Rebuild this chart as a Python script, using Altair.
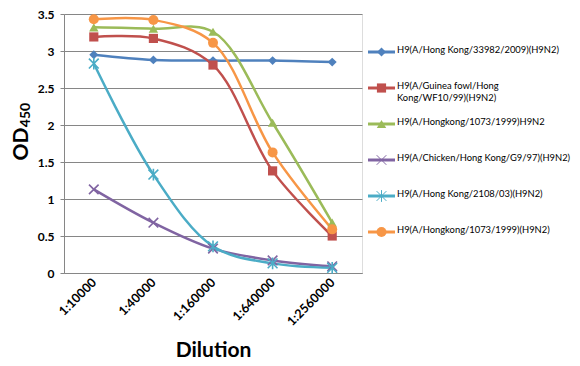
import altair as alt
import pandas as pd

dilutions = ["1:10000", "1:40000", "1:160000", "1:640000", "1:2560000"]

series_names = [
    "H9(A/Hong Kong/33982/2009)(H9N2)",
    "H9(A/Guinea fowl/Hong Kong/WF10/99)(H9N2)",
    "H9(A/Hongkong/1073/1999)H9N2",
    "H9(A/Chicken/Hong Kong/G9/97)(H9N2)",
    "H9(A/Hong Kong/2108/03)(H9N2)",
    "H9(A/Hongkong/1073/1999)(H9N2)",
]
legend_text = [
    "H9(A/Hong Kong/33982/2009)(H9N2)",
    "H9(A/Guinea fowl/Hong|Kong/WF10/99)(H9N2)",
    "H9(A/Hongkong/1073/1999)H9N2",
    "H9(A/Chicken/Hong Kong/G9/97)(H9N2)",
    "H9(A/Hong Kong/2108/03)(H9N2)",
    "H9(A/Hongkong/1073/1999)(H9N2)",
]

od_hk33982 = [2.95, 2.88, 2.87, 2.87, 2.85]
od_guinea = [3.19, 3.17, 2.81, 1.38, 0.50]
od_hk1073a = [3.32, 3.30, 3.26, 2.03, 0.68]
od_chicken = [1.13, 0.68, 0.33, 0.17, 0.09]
od_hk2108 = [2.83, 1.33, 0.36, 0.13, 0.07]
od_hk1073b = [3.43, 3.42, 3.11, 1.63, 0.59]

colors = ["#4F81BD", "#C0504D", "#9BBB59", "#8064A2", "#4BACC6", "#F79646"]
x_path = "M-1,-1L1,1M-1,1L1,-1"
star_path = "M-1,-1L1,1M-1,1L1,-1M0,-1.2L0,1.2"
shapes = ["diamond", "square", "triangle-up", x_path, star_path, "circle"]
sizes = [80, 100, 120, 90, 130, 130]
legend_sizes = [20, 20, 25, 25, 30, 25]

all_values = [od_hk33982, od_guinea, od_hk1073a, od_chicken, od_hk2108, od_hk1073b]
rows = []
for i, (name, vals) in enumerate(zip(series_names, all_values)):
    for d, v in zip(dilutions, vals):
        rows.append({"series": name, "order": i, "dilution": d, "od": v,
                     "filled": i not in (3, 4)})
df = pd.DataFrame(rows)

leg_df = pd.DataFrame({"series": series_names, "label": legend_text,
                       "order": list(range(6)),
                       "filled": [i not in (3, 4) for i in range(6)]})

FONT = "Lato"
color_scale = alt.Scale(domain=series_names, range=colors)
shape_scale = alt.Scale(domain=series_names, range=shapes)
size_scale = alt.Scale(domain=series_names, range=sizes)
lsize_scale = alt.Scale(domain=series_names, range=legend_sizes)

x_enc = alt.X("dilution:N", sort=dilutions,
              scale=alt.Scale(type="point", padding=0.5),
              axis=alt.Axis(title="Dilution", labelAngle=-45, labelAlign="right",
                            labelBaseline="middle", labelPadding=7,
                            labelFont=FONT, labelFontSize=12.5, labelFontWeight="bold",
                            labelColor="#000000", ticks=False,
                            domainColor="#868686", domainWidth=1,
                            titleFont=FONT, titleFontSize=21, titleFontWeight="bold",
                            titleColor="#000000", titlePadding=12))
y_enc = alt.Y("od:Q", scale=alt.Scale(domain=[0, 3.5], nice=False),
              axis=alt.Axis(title=None, values=[0, 0.5, 1, 1.5, 2, 2.5, 3, 3.5],
                            format="~g", labelFont=FONT, labelFontSize=12,
                            labelFontWeight="bold", labelColor="#000000",
                            labelPadding=6,
                            tickSize=4, tickColor="#868686",
                            domainColor="#868686", gridColor="#868686",
                            gridWidth=1))

base = alt.Chart(df).encode(
    x=x_enc, y=y_enc,
    color=alt.Color("series:N", scale=color_scale, legend=None),
)

lines = base.mark_line(interpolate="catmull-rom", strokeWidth=2.5).encode(
    order=alt.Order("order:Q"))

pts_filled = base.transform_filter("datum.filled").mark_point(
    filled=True, opacity=1).encode(
    shape=alt.Shape("series:N", scale=shape_scale, legend=None),
    size=alt.Size("series:N", scale=size_scale, legend=None))

pts_stroked = base.transform_filter("!datum.filled").mark_point(
    filled=False, opacity=1, strokeWidth=1.6).encode(
    shape=alt.Shape("series:N", scale=shape_scale, legend=None),
    size=alt.Size("series:N", scale=size_scale, legend=None))

leg_y = alt.Y("series:N", sort=series_names,
              scale=alt.Scale(type="point", range=[38, 218], padding=0), axis=None)
leg_base = alt.Chart(leg_df).encode(y=leg_y)

leg_rule = leg_base.mark_rule(strokeWidth=3).encode(
    x=alt.value(304), x2=alt.value(331),
    color=alt.Color("series:N", scale=color_scale, legend=None))
leg_pts_f = leg_base.transform_filter("datum.filled").mark_point(
    filled=True, opacity=1).encode(
    x=alt.value(317.5),
    color=alt.Color("series:N", scale=color_scale, legend=None),
    shape=alt.Shape("series:N", scale=shape_scale, legend=None),
    size=alt.Size("series:N", scale=lsize_scale, legend=None))
leg_pts_s = leg_base.transform_filter("!datum.filled").mark_point(
    filled=False, opacity=1, strokeWidth=1).encode(
    x=alt.value(317.5),
    color=alt.Color("series:N", scale=color_scale, legend=None),
    shape=alt.Shape("series:N", scale=shape_scale, legend=None),
    size=alt.Size("series:N", scale=lsize_scale, legend=None))
leg_text = leg_base.mark_text(
    align="left", baseline="top", dy=-6, lineBreak="|", lineHeight=12,
    font=FONT, fontSize=9.4, color="#000000").encode(
    x=alt.value(333), text="label:N")

title_df = pd.DataFrame({"t": ["OD"], "s": ["450"]})
od_title = alt.Chart(title_df).mark_text(
    angle=270, align="center", baseline="middle", font=FONT, fontSize=21,
    fontWeight="bold", color="#000000").encode(
    x=alt.value(-42), y=alt.value(130), text="t:N")
sub_title = alt.Chart(title_df).mark_text(
    angle=270, align="center", baseline="middle", font=FONT, fontSize=14,
    fontWeight="bold", color="#000000").encode(
    x=alt.value(-38), y=alt.value(101), text="s:N")

main = alt.layer(lines, pts_filled, pts_stroked)
legend = alt.layer(leg_rule, leg_pts_f, leg_pts_s, leg_text)

chart = alt.layer(main, legend, od_title, sub_title).resolve_scale(
    y="independent"
).properties(
    width=298, height=259,
    autosize=alt.AutoSizeParams(type="none"),
    padding={"left": 56, "top": 6, "right": 210, "bottom": 92},
).configure_view(stroke=None).configure(background="#ffffff")

chart.save("out.html", embed_options={"renderer": "svg", "actions": False})
